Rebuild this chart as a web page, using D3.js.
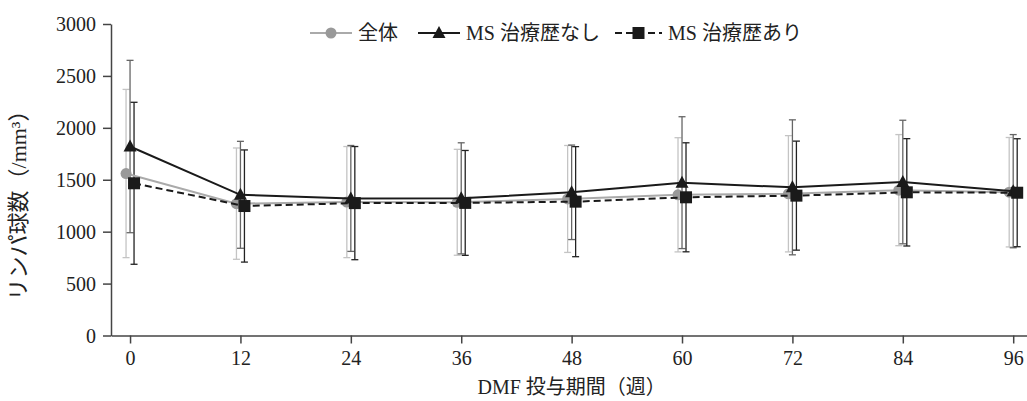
<!DOCTYPE html>
<html>
<head>
<meta charset="utf-8">
<script src="https://cdn.jsdelivr.net/npm/d3@7"></script>
<style>
    body { margin: 0; background: #fff; }
    svg text { font-family: "Liberation Serif", "DejaVu Serif", "Noto Sans CJK JP", serif !important; fill: #222; }
    .axis path, .axis line { stroke: #444; stroke-width: 1.5; }
</style>
</head>
<body>
<div id="chart"></div>
<script>
// weeks on DMF and lymphocyte counts (mean and SD, /mm3)
let weeks = [0, 12, 24, 36, 48, 60, 72, 84, 96];
let yTicks = [0, 500, 1000, 1500, 2000, 2500, 3000];

let allMean = [1560, 1270, 1285, 1283, 1315, 1355, 1365, 1400, 1380];
let allSd = [810, 536, 535, 510, 515, 550, 560, 535, 527];

let naiveMean = [1820, 1355, 1320, 1321, 1379, 1472, 1427, 1478, 1390];
let naiveSd = [830, 515, 510, 535, 455, 635, 650, 595, 545];

let treatedMean = [1466, 1247, 1275, 1277, 1289, 1331, 1347, 1379, 1375];
let treatedSd = [780, 540, 545, 505, 530, 525, 525, 517, 520];

let seriesNames = ["全体", "MS 治療歴なし", "MS 治療歴あり"];

let width = 1027, height = 401;
let fontFamily = "'Liberation Serif', 'Noto Sans CJK JP', serif";

let svg = d3.select("#chart")
    .append("svg")
    .attr("width", width)
    .attr("height", height);

let x = d3.scaleLinear().domain([-2.07, 97.5]).range([111, 1027]);
let y = d3.scaleLinear().domain([0, 3000]).range([335.5, 24]);

// axes
svg.append("g")
    .attr("class", "axis")
    .attr("transform", "translate(111,0)")
    .call(d3.axisLeft(y).tickValues(yTicks).tickFormat(d3.format("d")).tickSize(8).tickSizeOuter(0).tickPadding(7))
    .attr("font-family", fontFamily)
    .call(g => g.selectAll("text").attr("font-size", "20px").attr("dy", "0.34em"));

svg.append("g")
    .attr("class", "axis")
    .attr("transform", "translate(0,335.5)")
    .call(d3.axisBottom(x).tickValues(weeks).tickFormat(d3.format("d")).tickSize(8).tickSizeOuter(0).tickPadding(7))
    .attr("font-family", fontFamily)
    .call(g => g.selectAll("text").attr("font-size", "20px"));

svg.append("text")
    .attr("x", x(48))
    .attr("y", 394)
    .attr("text-anchor", "middle")
    .attr("font-size", "20px")
    .text("DMF 投与期間（週）");

svg.append("text")
    .attr("transform", "translate(26,200) rotate(-90)")
    .attr("text-anchor", "middle")
    .attr("font-size", "22px")
    .text("リンパ球数（/mm³）");

let series = [
    {name: seriesNames[0], mean: allMean, sd: allSd, dx: -4, line: "#aaa", bar: "#c4c4c4", marker: "circle", fill: "#999", dash: null},
    {name: seriesNames[1], mean: naiveMean, sd: naiveSd, dx: 0, line: "#1a1a1a", bar: "#666", marker: "triangle", fill: "#1a1a1a", dash: null},
    {name: seriesNames[2], mean: treatedMean, sd: treatedSd, dx: 4, line: "#1a1a1a", bar: "#222", marker: "square", fill: "#1a1a1a", dash: "7,4"}
];

function drawMarker(g, type, fill) {
    if (type === "circle") {
        g.append("circle").attr("r", 5.5).attr("fill", fill);
    } else if (type === "triangle") {
        g.append("path").attr("d", "M0,-7L6.5,5L-6.5,5Z").attr("fill", fill);
    } else {
        g.append("rect").attr("x", -6).attr("y", -6).attr("width", 12).attr("height", 12).attr("fill", fill);
    }
}

// error bars first, then lines and markers
series.forEach(function(s) {
    let eb = svg.append("g");
    weeks.forEach(function(w, i) {
        let cx = x(w) + s.dx;
        let top = y(s.mean[i] + s.sd[i]);
        let bot = y(s.mean[i] - s.sd[i]);
        eb.append("line").attr("x1", cx).attr("x2", cx).attr("y1", top).attr("y2", bot)
            .attr("stroke", s.bar).attr("stroke-width", 1.3);
        [top, bot].forEach(function(yy) {
            eb.append("line").attr("x1", cx - 3.5).attr("x2", cx + 3.5).attr("y1", yy).attr("y2", yy)
                .attr("stroke", s.bar).attr("stroke-width", 1.3);
        });
    });
});

series.forEach(function(s) {
    let line = d3.line()
        .x(function(d, i) { return x(weeks[i]) + s.dx; })
        .y(function(d) { return y(d); });
    svg.append("path")
        .datum(s.mean)
        .attr("d", line)
        .attr("fill", "none")
        .attr("stroke", s.line)
        .attr("stroke-width", 2)
        .attr("stroke-dasharray", s.dash);
    weeks.forEach(function(w, i) {
        let g = svg.append("g").attr("transform", "translate(" + (x(w) + s.dx) + "," + y(s.mean[i]) + ")");
        drawMarker(g, s.marker, s.fill);
    });
});

// legend
let legendX = [310, 418, 615];
let legendW = [42, 42, 47];
series.forEach(function(s, i) {
    let lg = svg.append("g").attr("transform", "translate(" + legendX[i] + ",33)");
    lg.append("line").attr("x1", 0).attr("x2", legendW[i]).attr("y1", 0).attr("y2", 0)
        .attr("stroke", s.line).attr("stroke-width", 2).attr("stroke-dasharray", s.dash);
    drawMarker(lg.append("g").attr("transform", "translate(" + (legendW[i] / 2) + ",0)"), s.marker, s.fill);
    lg.append("text")
        .attr("x", legendW[i] + 6)
        .attr("y", 7)
        .attr("font-size", "20px")
        .text(s.name);
});
</script>
</body>
</html>
